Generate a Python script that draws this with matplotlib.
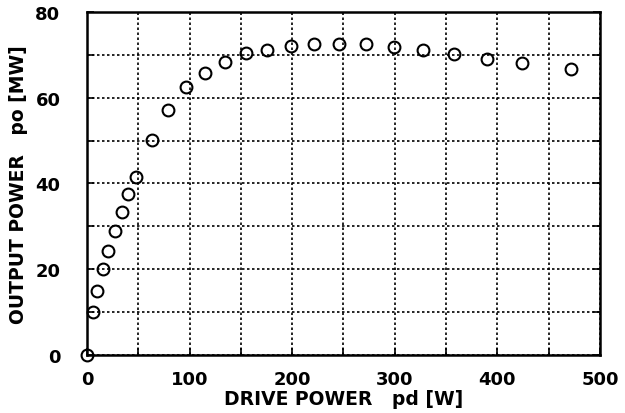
import matplotlib.pyplot as plt

# drive power [W] vs output power [MW]
drive_power = [0, 5.5, 9.5, 15.5, 21, 27.5, 34, 40.5, 48, 63, 79, 96.5, 115, 135,
               155, 176, 199, 221, 246, 272, 299, 328, 358, 390, 424, 472]
output_power = [0, 10, 15, 20, 24.3, 29, 33.3, 37.5, 41.4, 50.2, 57.2, 62.5, 65.7, 68.4,
                70.3, 71.2, 72, 72.5, 72.6, 72.4, 71.8, 71.2, 70.1, 69.1, 68.1, 66.6]

x_ticks = [0, 100, 200, 300, 400, 500]
y_ticks = [0, 20, 40, 60, 80]

plt.rcParams['font.family'] = ['DejaVu Sans']

fig = plt.figure(figsize=(6.25, 4.14), dpi=100)
ax = fig.add_axes([0.139, 0.14, 0.821, 0.829])

ax.plot(drive_power, output_power, 'o', mfc='none', mec='black',
        ms=8.5, mew=1.5, clip_on=False, zorder=3)

ax.set_xlim(0, 500)
ax.set_ylim(0, 80)
ax.set_xticks(range(0, 501, 50))
ax.set_yticks(range(0, 81, 10))
ax.set_xticklabels([str(v) if v in x_ticks else '' for v in range(0, 501, 50)],
                   fontsize=13, fontweight='bold')
ax.set_yticklabels([str(v) if v in y_ticks else '' for v in range(0, 81, 10)],
                   fontsize=13, fontweight='bold')
ax.tick_params(direction='in', length=5, width=1.2, right=True, top=False)
ax.tick_params(axis='x', pad=11)
ax.tick_params(axis='y', pad=19)
ax.grid(True, linestyle=(0, (1.5, 1.5)), color='black', linewidth=1.2)

for s in ax.spines.values():
    s.set_linewidth(1.8)

ax.set_xlabel('DRIVE POWER   pd [W]', fontsize=13.5, fontweight='bold')
ax.set_ylabel('OUTPUT POWER   po [MW]', fontsize=13.5, fontweight='bold')
ax.xaxis.set_label_coords(0.5, -0.1)
ax.yaxis.set_label_coords(-0.115, 0.5)

fig.savefig('out.png', dpi=100)
